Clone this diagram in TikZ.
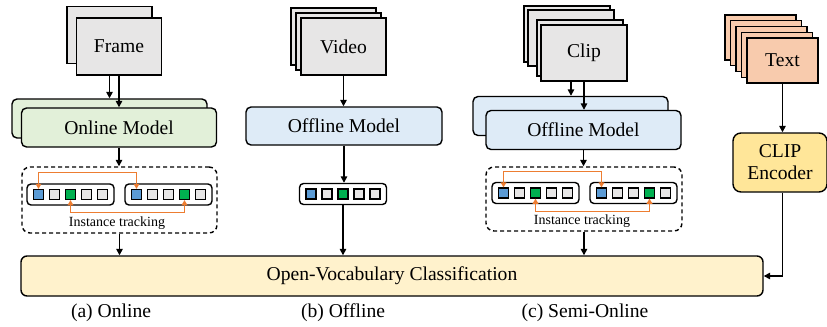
\documentclass[tikz,border=0pt]{standalone}
\usepackage{fontspec}
\setmainfont{Liberation Serif}
\usetikzlibrary{arrows.meta}

\definecolor{sheetgray}{HTML}{E7E6E6}
\definecolor{txtorange}{HTML}{F8CBAD}
\definecolor{onlinegreen}{HTML}{E2F0D9}
\definecolor{offlineblue}{HTML}{DEEBF7}
\definecolor{clipyellow}{HTML}{FFE699}
\definecolor{clsyellow}{HTML}{FFF2CC}
\definecolor{tokblue}{HTML}{5B9BD5}
\definecolor{tokgreen}{HTML}{00B050}
\definecolor{tokgray}{HTML}{E7E6E6}
\definecolor{trackorange}{HTML}{ED7D31}

\tikzset{
  sheet/.style={draw, fill=sheetgray, line width=0.7pt, minimum width=42.5pt, minimum height=28.5pt, inner sep=0pt},
  txtsheet/.style={sheet, fill=txtorange, minimum width=35.5pt, minimum height=22.5pt},
  model/.style={draw, rounded corners=2.5pt, line width=0.7pt, minimum width=97.5pt, minimum height=19.5pt, inner sep=0pt},
  tokrow/.style={draw, rounded corners=2pt, line width=0.7pt, fill=white, minimum width=43.5pt, minimum height=10.5pt, inner sep=0pt},
  tok/.style={draw, line width=0.55pt, minimum size=5pt, inner sep=0pt},
  trackbox/.style={draw, dash pattern=on 2pt off 1.5pt, rounded corners=4pt, line width=0.7pt, minimum width=97.5pt, minimum height=33pt, inner sep=0pt},
  arr/.style={-{Triangle[length=3.2pt,width=3.2pt]}, line width=0.7pt},
  trk/.style={{Triangle[length=2.6pt,width=2.8pt]}-{Triangle[length=2.6pt,width=2.8pt]}, draw=trackorange, line width=0.7pt},
  small/.style={font=\fontsize{7}{8}\selectfont},
}

\begin{document}
\begin{tikzpicture}[x=0.5pt, y=-0.5pt, font=\fontsize{9.8}{11}\selectfont]
  \useasboundingbox (0,0) rectangle (827,327);

  % (a) online
  \node[sheet] (frameB) at (109.5,35) {};
  \node[sheet] (frameF) at (119,46.5) {Frame};
  \node[model, fill=onlinegreen] (onlineB) at (109.5,118.5) {};
  \node[model, fill=onlinegreen] (onlineF) at (119,127.5) {Online Model};
  \node[trackbox] (dashA) at (119.5,200) {};
  \node[small] (trackA) at (117,223) {Instance tracking};

  % (b) offline
  \node[sheet] (video1) at (333.5,36.5) {};
  \node[sheet] (video2) at (338.5,41.5) {};
  \node[sheet] (videoF) at (343.5,46.5) {Video};
  \node[model, fill=offlineblue, minimum width=98pt, minimum height=19pt] (offB) at (344,126) {Offline Model};

  % (c) semi-online
  \node[sheet, minimum width=43pt, minimum height=28pt] (clip1) at (567,34) {};
  \node[sheet, minimum width=43pt, minimum height=28pt] (clip2) at (571,38) {};
  \node[sheet, minimum width=43pt, minimum height=28pt] (clip3) at (580,48) {};
  \node[sheet, minimum width=43pt, minimum height=28pt] (clipF) at (584,53) {Clip};
  \node[model, fill=offlineblue] (semiB) at (570.5,116) {};
  \node[model, fill=offlineblue] (semiF) at (583.5,130) {Offline Model};
  \node[trackbox, minimum width=98pt, minimum height=32pt] (dashC) at (584,199) {};
  \node[small] (trackC) at (582,221) {Instance tracking};

  % token rows
  \foreach \nm/\cx/\cy/\cols in {
      a1/70.5/194.5/{tokblue,tokgray,tokgreen,tokgray,tokgray},
      a2/168.5/194.5/{tokblue,tokgray,tokgray,tokgreen,tokgray},
      b1/343/194/{tokblue,tokgray,tokgreen,tokgray,tokgray},
      c1/535.5/193/{tokblue,tokgray,tokgreen,tokgray,tokgray},
      c2/633.5/193/{tokblue,tokgray,tokgray,tokgreen,tokgray}} {
    \node[tokrow] (\nm) at (\cx,\cy) {};
    \foreach \c [count=\i] in \cols
      \node[tok, fill=\c] (\nm-\i) at ({\cx+(\i-3)*16},\cy) {};
  }

  % text branch
  \foreach \k in {0,...,3}
    \node[txtsheet] (text\k) at ({760.5+5.5*\k},{37.5+5.75*\k}) {};
  \node[txtsheet] (textF) at (782.5,60.5) {Text};
  \node[draw, fill=clipyellow, rounded corners=4pt, line width=0.7pt, minimum width=47pt, minimum height=29.5pt, inner sep=0pt, align=center] (clip) at (780,162.5) {CLIP\\Encoder};

  \node[draw, fill=clsyellow, rounded corners=3pt, line width=0.7pt, minimum width=371pt, minimum height=20pt] (cls) at (392,276) {Open-Vocabulary Classification};

  \node (capA) at (111,313) {(a) Online};
  \node (capB) at (343,313) {(b) Offline};
  \node (capC) at (585,313) {(c) Semi-Online};

  % arrows
  \draw[arr] (frameB.south |- frameF.south) -- (frameB.south |- onlineB.north);
  \draw[arr] (frameF.south) -- (frameF.south |- onlineF.north);
  \draw[arr] (onlineF.south) -- (onlineF.south |- dashA.north);
  \draw[arr] (dashA.south) -- (dashA.south |- cls.north);

  \draw[arr] (videoF.south) -- (videoF.south |- offB.north);
  \draw[arr] (offB.south) -- (offB.south |- b1.north);
  \draw[arr] (b1.south) -- (b1.south |- cls.north);

  \draw[arr] (clip2.south |- clipF.south) -- (clip2.south |- semiB.north);
  \draw[arr] (clipF.south) -- (clipF.south |- semiF.north);
  \draw[arr] (semiF.south) -- (semiF.south |- dashC.north);
  \draw[arr] (dashC.south) -- (dashC.south |- cls.north);

  \draw[arr] (textF.south) -- (textF.south |- clip.north);
  \draw[arr] (textF.south |- clip.south) |- (cls.east);

  % tracking links
  \draw[trk] (a1-1.north) -- ++(0,-16.5) -| (a2-1.north);
  \draw[trk] (a1-3.south) -- ++(0,12.5) -| (a2-4.south);
  \draw[trk] (c1-1.north) -- ++(0,-16) -| (c2-1.north);
  \draw[trk] (c1-3.south) -- ++(0,13) -| (c2-4.south);
\end{tikzpicture}
\end{document}
